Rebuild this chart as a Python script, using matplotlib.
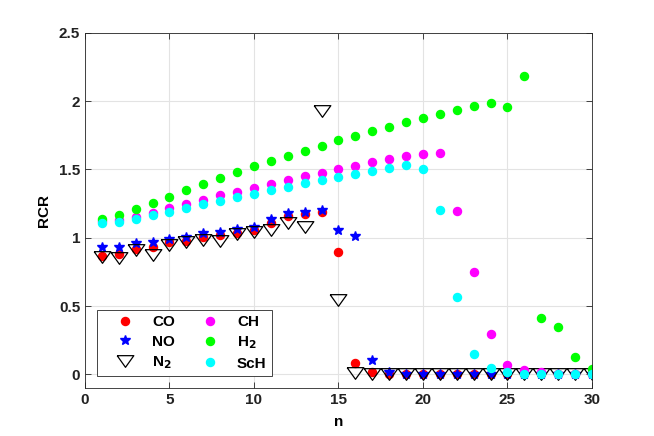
import numpy as np
import matplotlib
matplotlib.use("Agg")
import matplotlib.pyplot as plt

# RCR values, n = 1..30
n = np.arange(1, 31)

co = [0.868, 0.880, 0.917, 0.934, 0.965, 0.977, 1.007, 1.019, 1.038, 1.057,
      1.106, 1.159, 1.176, 1.191, 0.897, 0.082, 0.019, 0.003, 0.002, 0.002,
      0.002, 0.002, 0.002, 0.002, 0.002, 0.001, 0.001, 0.001, 0.001, 0.001]
no = [0.929, 0.934, 0.961, 0.965, 0.994, 1.002, 1.031, 1.043, 1.062, 1.079,
      1.135, 1.179, 1.191, 1.203, 1.055, 1.009, 0.102, 0.019, 0.003, 0.002,
      0.002, 0.002, 0.002, 0.002, 0.001, 0.001, 0.001, 0.001, 0.001, 0.001]
n2 = [0.856, 0.851, 0.910, 0.873, 0.946, 0.970, 0.985, 0.977, 1.026, 1.043,
      1.057, 1.111, 1.079, 1.924, 0.546, 0.012, 0.0, 0.0, 0.0, 0.0,
      0.0, 0.0, 0.0, 0.0, 0.0, 0.0, 0.0, 0.0, 0.0, 0.0]
ch = [1.120, 1.130, 1.152, 1.183, 1.218, 1.249, 1.278, 1.310, 1.336, 1.365,
      1.395, 1.424, 1.448, 1.475, 1.500, 1.528, 1.552, 1.577, 1.600, 1.613,
      1.620, 1.196, 0.752, 0.298, 0.065, 0.031, 0.017, 0.006, 0.004, 0.003]
h2 = [1.140, 1.165, 1.208, 1.254, 1.300, 1.346, 1.392, 1.438, 1.480, 1.523,
      1.562, 1.600, 1.637, 1.674, 1.712, 1.744, 1.780, 1.812, 1.846, 1.875,
      1.907, 1.936, 1.965, 1.989, 1.953, 2.183, 0.415, 0.347, 0.126, 0.039]
sch = [1.106, 1.116, 1.138, 1.164, 1.190, 1.218, 1.245, 1.271, 1.298, 1.322,
       1.349, 1.373, 1.397, 1.421, 1.445, 1.467, 1.489, 1.511, 1.535, 1.500,
       1.203, 0.568, 0.148, 0.043, 0.019, 0.002, 0.002, 0.002, 0.002, 0.002]

plt.rcParams['font.family'] = ['Liberation Sans', 'DejaVu Sans']
plt.rcParams['font.weight'] = 'bold'
plt.rcParams['mathtext.default'] = 'bf'

axis_col = '#262626'

fig = plt.figure(figsize=(6.54, 4.36), dpi=100)
ax = fig.add_axes([0.13, 0.11, 0.775, 0.815])

# flat MATLAB-style downward triangle
tri = [(-1, 0.7), (1, 0.7), (0, -0.7), (-1, 0.7)]

ax.plot(n, co, 'o', color='red', ms=5.8, mec='red', label='CO')
ax.plot(n, no, '*', color='blue', ms=7, mec='blue', label='NO')
ax.plot(n, n2, ls='none', marker=tri, ms=12, mfc='none', mec='black', mew=0.9,
        label='N$_2$')
ax.plot(n, ch, 'o', color='magenta', ms=5.8, mec='magenta', label='CH')
ax.plot(n, h2, 'o', color='#00ff00', ms=5.8, mec='#00ff00', label='H$_2$')
ax.plot(n, sch, 'o', color='cyan', ms=5.8, mec='cyan', label='ScH')

ax.set_xlim(0, 30)
ax.set_ylim(-0.1, 2.5)
ax.set_xticks([0, 5, 10, 15, 20, 25, 30])
ax.set_yticks([0, 0.5, 1, 1.5, 2, 2.5])
ax.set_yticklabels(['0', '0.5', '1', '1.5', '2', '2.5'])
ax.grid(True, color='#e3e3e3', lw=0.8)
ax.set_axisbelow(True)
ax.tick_params(direction='in', top=True, right=True, length=4, width=0.6,
               colors=axis_col, labelsize=11, labelcolor='#222222')
for s in ax.spines.values():
    s.set_color(axis_col)
    s.set_linewidth(0.6)

ax.set_xlabel('n', fontsize=11, fontweight='bold', labelpad=6)
ax.set_ylabel('RCR', fontsize=11, fontweight='bold', labelpad=6)

leg = ax.legend(ncol=2, loc='lower left', bbox_to_anchor=(0.024, 0.034),
                borderaxespad=0, fontsize=11, fancybox=False, framealpha=1,
                edgecolor=axis_col, handlelength=3.0, columnspacing=0.8,
                labelspacing=0.35, handletextpad=0.25, borderpad=0.35)
leg.get_frame().set_linewidth(0.6)

fig.savefig('out.png', dpi=100)
